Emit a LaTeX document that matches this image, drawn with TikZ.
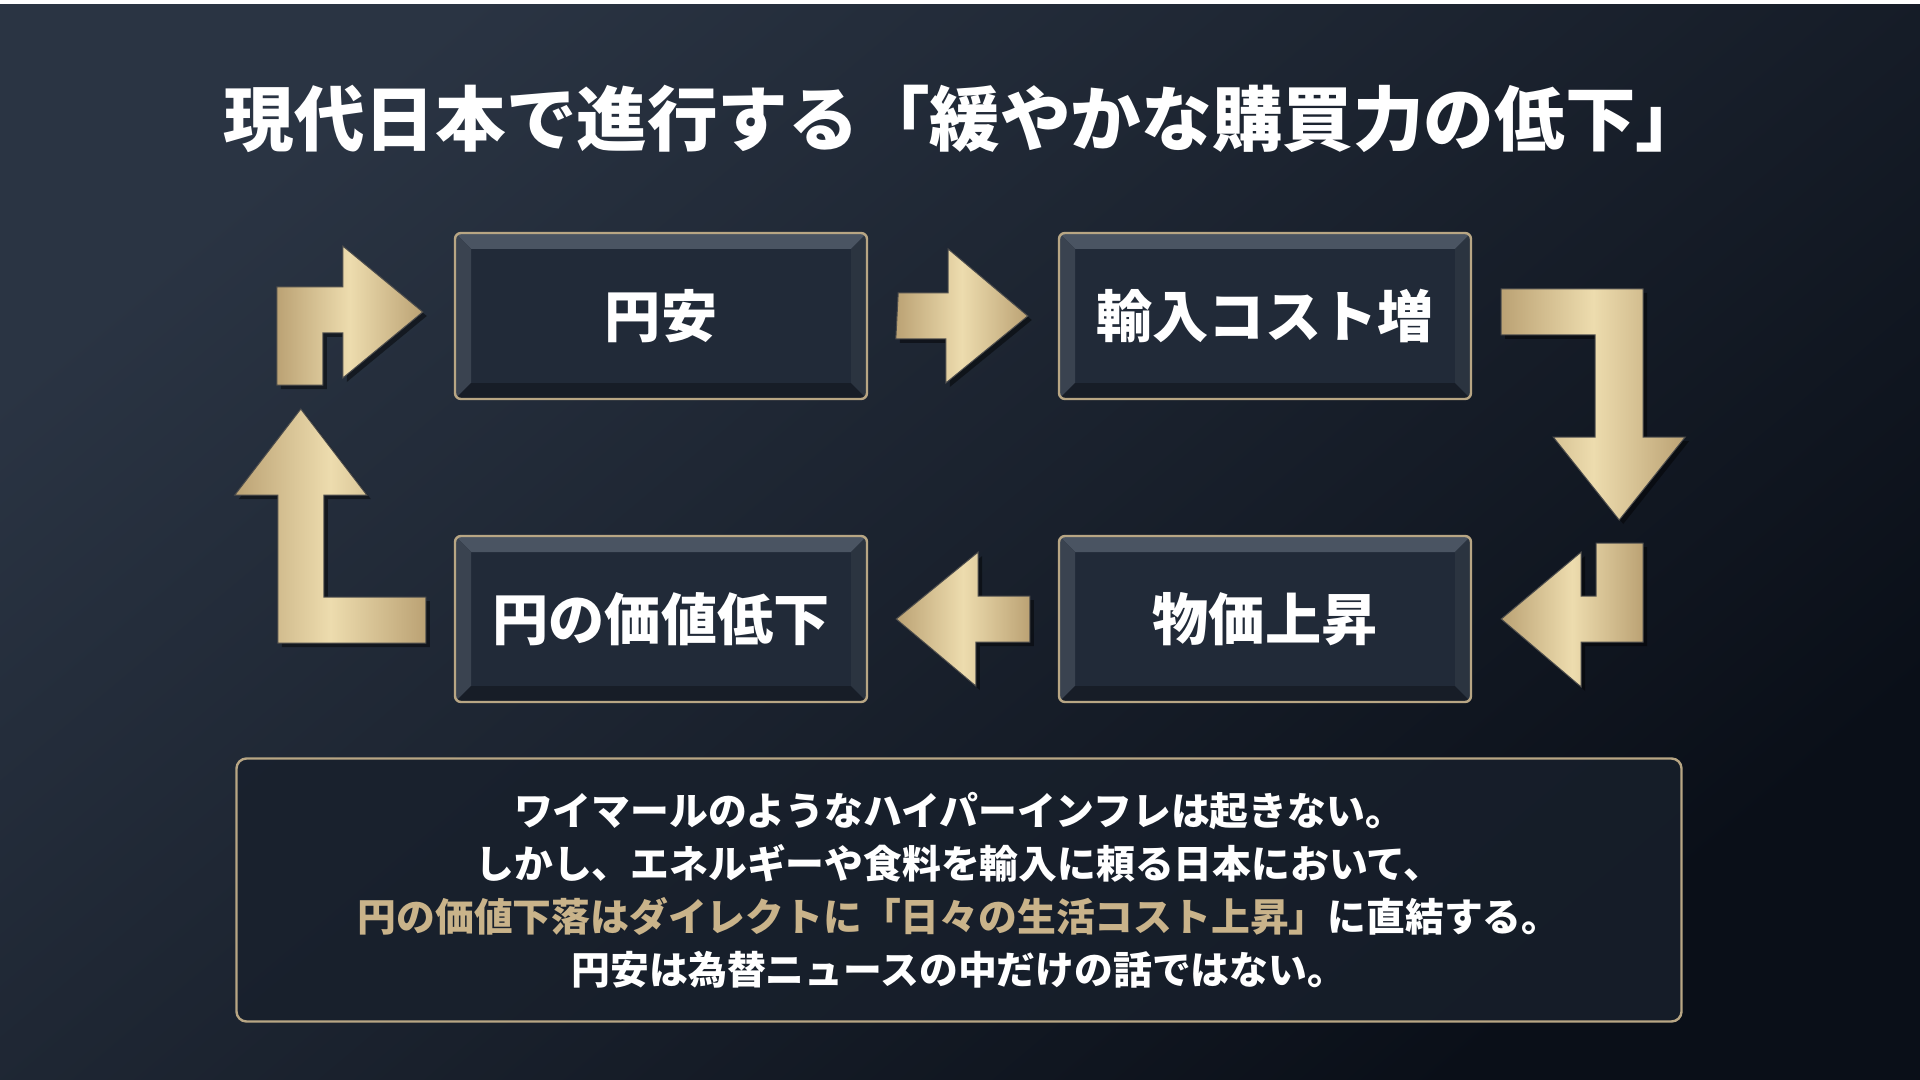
\documentclass[tikz,border=0pt]{standalone}
\usepackage{fontspec}
\newfontfamily\cjk{Noto Sans CJK JP}
\usetikzlibrary{calc,shadows}
\definecolor{bgTop}{HTML}{2A3443}
\definecolor{bgBot}{HTML}{0A0F18}
\definecolor{mGold}{HTML}{C9B38A}
\definecolor{goldDark}{HTML}{BBA274}
\definecolor{goldLight}{HTML}{EDDCAE}
\definecolor{rimGold}{HTML}{B8A684}
\definecolor{boxFace}{HTML}{212A38}
\definecolor{bevTop}{HTML}{4A5462}
\definecolor{bevLeft}{HTML}{3A4350}
\definecolor{bevBot}{HTML}{171D27}
\definecolor{bevRight}{HTML}{2B3440}
\definecolor{panelFace}{HTML}{18202C}

\begin{document}
\begin{tikzpicture}[x=0.5pt, y=-0.5pt,
    cyclebox/.style={minimum width=206pt, minimum height=83pt, rounded corners=3pt,
      draw=rimGold, line width=1.2pt, fill=boxFace, text=white,
      font=\cjk\bfseries\fontsize{28.1}{30}\selectfont,
      path picture={
        \coordinate (bnw) at (path picture bounding box.north west);
        \coordinate (bne) at (path picture bounding box.north east);
        \coordinate (bsw) at (path picture bounding box.south west);
        \coordinate (bse) at (path picture bounding box.south east);
        \fill[bevTop, sharp corners] (bnw) -- (bne) -- ([shift={(-8pt,-8pt)}]bne) -- ([shift={(8pt,-8pt)}]bnw) -- cycle;
        \fill[bevLeft, sharp corners] (bnw) -- (bsw) -- ([shift={(8pt,8pt)}]bsw) -- ([shift={(8pt,-8pt)}]bnw) -- cycle;
        \fill[bevBot, sharp corners] (bsw) -- (bse) -- ([shift={(-8pt,8pt)}]bse) -- ([shift={(8pt,8pt)}]bsw) -- cycle;
        \fill[bevRight, sharp corners] (bne) -- (bse) -- ([shift={(-8pt,8pt)}]bse) -- ([shift={(-8pt,-8pt)}]bne) -- cycle;
      }},
    goldarrow/.style={left color=goldDark, right color=goldDark, middle color=goldLight,
      draw=black!70, line width=0.5pt,
      drop shadow={shadow xshift=2pt, shadow yshift=-2pt, opacity=0.45, fill=black}},
    notepanel/.style={minimum width=722.5pt, minimum height=131.5pt, rounded corners=5pt,
      draw=rimGold, line width=1.2pt, fill=panelFace, fill opacity=0.8, text opacity=1,
      text=white, align=center, font=\cjk\bfseries\fontsize{19.4}{26.5}\selectfont}]
  \useasboundingbox (0,0) rectangle (1920,1080);
  \shade[top color=bgTop, bottom color=bgBot, shading angle=40] (0,0) rectangle (1920,1080);
  \fill[white] (0,0) rectangle (1920,4);

  % title
  \node[text=white, font=\cjk\bfseries\fontsize{35.3}{40}\selectfont] (title) at (965,119)
    {現代日本で進行する「緩やかな購買力の低下」};

  % the four steps
  \node[cyclebox] (yen) at (661,316) {円安};
  \node[cyclebox] (cost) at (1265,316) {輸入コスト増};
  \node[cyclebox] (price) at (1265,619) {物価上昇};
  \node[cyclebox] (value) at (661,619) {円の価値低下};

  % arrows round the cycle
  \filldraw[goldarrow] ($(yen.east)+(30,-23)$) -- ++(50,0) -- ++(0,-44)
    -- ($(cost.west)+(-30,0)$) -- ++(-82,67) -- ++(0,-44) -- ++(-50,0) -- cycle;
  \filldraw[goldarrow] ($(cost.east)+(29,-27)$) -- ++(142,0) -- ++(0,148) -- ++(42,0)
    -- ++(-66,83) -- ++(-66,-83) -- ++(42,0) -- ++(0,-102) -- ++(-94,0) -- cycle;
  \filldraw[goldarrow] ($(price.east)+(29,0)$) -- ++(80,-67) -- ++(0,44) -- ++(15,0)
    -- ++(0,-53) -- ++(47,0) -- ++(0,99) -- ++(-62,0) -- ++(0,45) -- cycle;
  \filldraw[goldarrow] ($(value.east)+(28,0)$) -- ++(82,-67) -- ++(0,44)
    -- ($(price.west)+(-28,-23)$) -- ++(0,46) -- ++(-54,0) -- ++(0,44) -- cycle;
  \filldraw[goldarrow] ($(value.west)+(-28,-22)$) -- ++(0,46) -- ++(-148,0) -- ++(0,-148)
    -- ++(-43,0) -- ++(66,-86) -- ++(66,86) -- ++(-43,0) -- ++(0,102) -- cycle;
  \filldraw[goldarrow] ($(yen.west)+(-31,-4)$) -- ++(-80,-66) -- ++(0,41) -- ++(-66,0)
    -- ++(0,98) -- ++(46,0) -- ++(0,-52) -- ++(20,0) -- ++(0,45) -- cycle;

  % note below
  \node[notepanel] (note) at (959,890)
    {ワイマールのようなハイパーインフレは起きない。\\
     しかし、エネルギーや食料を輸入に頼る日本において、\\
     {\color{mGold}円の価値下落はダイレクトに「日々の生活コスト上昇」}に直結する。\\
     円安は為替ニュースの中だけの話ではない。};
\end{tikzpicture}
\end{document}
